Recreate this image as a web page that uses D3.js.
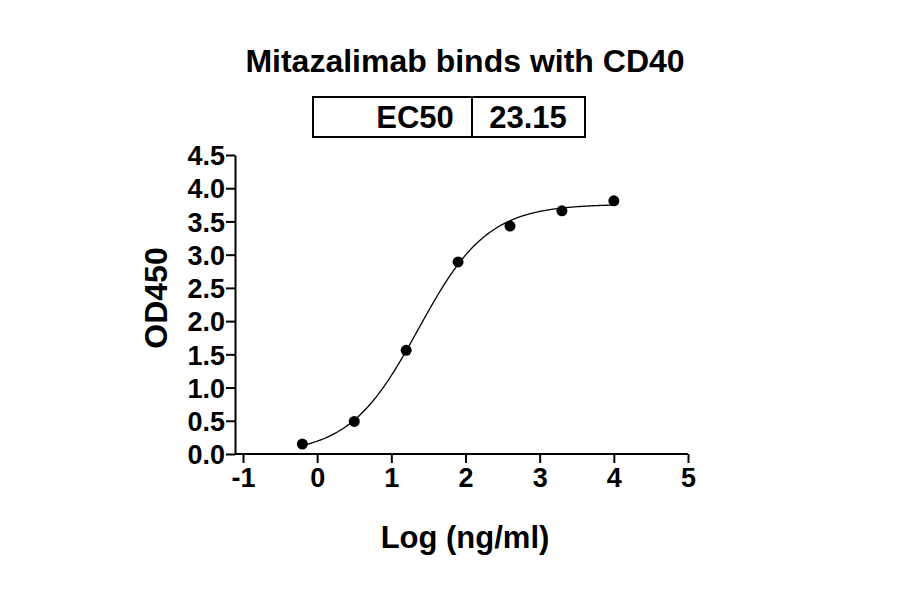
<!DOCTYPE html><html><head><meta charset="utf-8"><script src="https://cdn.jsdelivr.net/npm/d3@7"></script>
<style>body{margin:0;background:#fff}text{font-family:"Liberation Sans",Arial,sans-serif;font-weight:bold}</style></head><body><svg width="900" height="594"></svg><script>
const xVals=[-0.2,0.5,1.2,1.9,2.6,3.3,4.0];
const yVals=[0.15,0.49,1.56,2.89,3.43,3.66,3.81];
const fitParams=[0.0,3.76,1.3645,0.93]; // bottom, top, logEC50, hill
const xTicks=[-1,0,1,2,3,4,5];
const yTicks=[0,0.5,1,1.5,2,2.5,3,3.5,4,4.5];
const svg=d3.select("svg");
const x=d3.scaleLinear().domain([-1,5]).range([243,688]);
const y=d3.scaleLinear().domain([0,4.5]).range([454,155]);
const ax=svg.append("g").attr("transform","translate(0,454)").call(d3.axisBottom(x).tickValues(xTicks).tickSize(9).tickSizeOuter(0).tickFormat(d=>String(d)));
ax.select(".domain").attr("d","M235,0H688");
const ay=svg.append("g").attr("transform","translate(235,0)").call(d3.axisLeft(y).tickValues(yTicks).tickSize(9).tickSizeOuter(0).tickFormat(d3.format(".1f")));
[ax,ay].forEach(g=>{g.attr("font-size",null).attr("font-family",null);g.selectAll("path,line").attr("stroke","#000").attr("stroke-width",2);g.selectAll("text").style("font-size","27px").attr("fill","#000").style("font-family","Liberation Sans, Arial").style("font-weight","bold");});
ax.selectAll("text").attr("y",13).attr("dy","0.75em");
ay.selectAll("text").attr("x",-10).attr("dy","0.36em");
const [b,t,c,h]=fitParams;
const f=v=>b+(t-b)/(1+Math.pow(10,(c-v)*h));
const curve=d3.range(-0.2,4.001,0.02).map(v=>[v,f(v)]);
svg.append("path").attr("d",d3.line().x(d=>x(d[0])).y(d=>y(d[1]))(curve)).attr("fill","none").attr("stroke","#000").attr("stroke-width",1.3);
svg.selectAll("circle").data(xVals).join("circle").attr("cx",d=>x(d)).attr("cy",(d,i)=>y(yVals[i])).attr("r",5.5).attr("fill","#000");
svg.append("text").attr("x",465).attr("y",72).attr("text-anchor","middle").attr("font-size",32).text("Mitazalimab binds with CD40");
svg.append("rect").attr("x",313).attr("y",97).attr("width",272).attr("height",40).attr("fill","none").attr("stroke","#000").attr("stroke-width",2);
svg.append("line").attr("x1",472).attr("x2",472).attr("y1",97).attr("y2",137).attr("stroke","#000").attr("stroke-width",2);
svg.append("text").attr("x",415).attr("y",128).attr("text-anchor","middle").attr("font-size",31).text("EC50");
svg.append("text").attr("x",528).attr("y",128).attr("text-anchor","middle").attr("font-size",31).text("23.15");
svg.append("text").attr("x",465).attr("y",548).attr("text-anchor","middle").attr("font-size",31).text("Log (ng/ml)");
svg.append("text").attr("transform","translate(167,298) rotate(-90)").attr("text-anchor","middle").attr("font-size",32).text("OD450");
</script></body></html>
